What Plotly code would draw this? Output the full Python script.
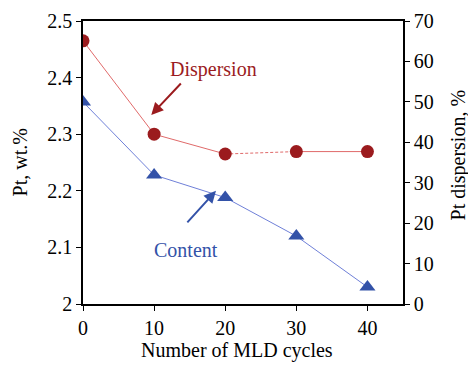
import plotly.graph_objects as go

cycles = [0, 10, 20, 30, 40]
pt_content = [2.357, 2.228, 2.188, 2.12, 2.03]
pt_dispersion = [65.1, 42.0, 37.1, 37.7, 37.7]

red_dark = "#9b1b1e"
red_line = "#e06a6a"
blue_dark = "#3352a8"
blue_line = "#6f80d8"
font_family = "Liberation Serif"
fs = 20

fig = go.Figure()

# Content (left axis)
fig.add_trace(go.Scatter(x=cycles, y=pt_content, mode="lines+markers",
                         line=dict(color=blue_line, width=1),
                         marker=dict(symbol="triangle-up", size=14, color=blue_dark),
                         yaxis="y", showlegend=False))

# Dispersion (right axis): solid segments with a dashed segment between 20 and 30
fig.add_trace(go.Scatter(x=cycles[0:3], y=pt_dispersion[0:3], mode="lines",
                         line=dict(color=red_line, width=1), yaxis="y2", showlegend=False))
fig.add_trace(go.Scatter(x=cycles[2:4], y=pt_dispersion[2:4], mode="lines",
                         line=dict(color=red_line, width=1, dash="3px,2px"), yaxis="y2", showlegend=False))
fig.add_trace(go.Scatter(x=cycles[3:5], y=pt_dispersion[3:5], mode="lines",
                         line=dict(color=red_line, width=1), yaxis="y2", showlegend=False))
fig.add_trace(go.Scatter(x=cycles, y=pt_dispersion, mode="markers",
                         marker=dict(symbol="circle", size=13, color=red_dark),
                         yaxis="y2", showlegend=False))

axis_common = dict(showgrid=False, zeroline=False, showline=True, linecolor="black",
                   linewidth=1.5, ticks="outside", ticklen=5, tickcolor="black",
                   automargin=False,
                   tickfont=dict(size=fs, family=font_family, color="black"))

fig.update_layout(
    width=468, height=366,
    margin=dict(l=83, r=65, t=21, b=62),
    plot_bgcolor="white", paper_bgcolor="white",
    font=dict(family=font_family, color="black"),
    xaxis=dict(range=[0, 45], tickvals=[0, 10, 20, 30, 40], mirror=True, **axis_common),
    yaxis=dict(range=[2.0, 2.5], tickvals=[2.0, 2.1, 2.2, 2.3, 2.4, 2.5],
               ticktext=["2", "2.1", "2.2", "2.3", "2.4", "2.5"], **axis_common),
    yaxis2=dict(range=[0, 70], tickvals=[0, 10, 20, 30, 40, 50, 60, 70],
                overlaying="y", side="right", **axis_common),
)

# Axis titles
fig.add_annotation(text="Number of MLD cycles", xref="paper", yref="paper",
                   x=0.48, y=-0.163, xanchor="center", yanchor="middle", showarrow=False,
                   font=dict(size=fs, family=font_family, color="black"))
fig.add_annotation(text="Pt, wt.%", xref="paper", yref="paper",
                   x=-0.197, y=0.5, xanchor="center", yanchor="middle", textangle=-90,
                   showarrow=False, font=dict(size=fs, family=font_family, color="black"))
fig.add_annotation(text="Pt dispersion, %", xref="paper", yref="paper",
                   x=1.172, y=0.525, xanchor="center", yanchor="middle", textangle=-90,
                   showarrow=False, font=dict(size=fs, family=font_family, color="black"))

# Series labels with arrows
fig.add_annotation(x=9.6, y=2.334, xref="x", yref="y", ax=31, ay=-33,
                   showarrow=True, arrowhead=2, arrowsize=1.2, arrowwidth=2,
                   arrowcolor=red_dark, text="")
fig.add_annotation(x=18.7, y=2.2, xref="x", yref="y", ax=-30, ay=33,
                   showarrow=True, arrowhead=2, arrowsize=1.2, arrowwidth=2,
                   arrowcolor=blue_dark, text="")
fig.add_annotation(x=18.3, y=2.415, xref="x", yref="y", text="Dispersion",
                   showarrow=False, font=dict(size=fs, color=red_dark, family=font_family))
fig.add_annotation(x=14.5, y=2.096, xref="x", yref="y", text="Content",
                   showarrow=False, font=dict(size=fs, color=blue_dark, family=font_family))

fig.write_html("out.html", config={"displayModeBar": False},
               post_script="document.body.style.margin='0';document.body.style.padding='0';")
